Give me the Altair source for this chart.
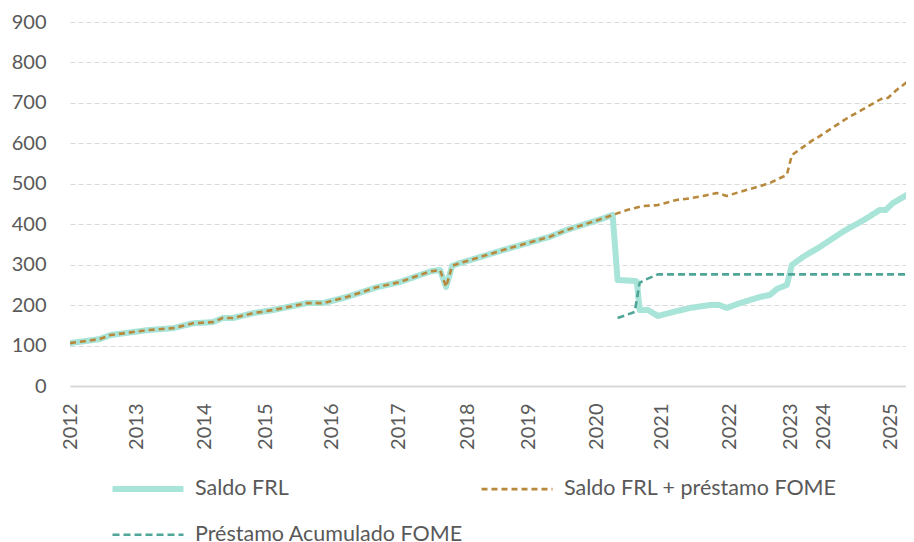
import altair as alt
import pandas as pd

# ---- data (x = period index, roughly months since Jan-2012) ----
series = ["Saldo FRL", "Saldo FRL + préstamo FOME", "Préstamo Acumulado FOME"]
legend_order = ["Saldo FRL", "Préstamo Acumulado FOME", "Saldo FRL + préstamo FOME"]

saldo_x = [0, 5.4, 7.3, 14, 18.7, 22.3, 25.9, 27.7, 29.5, 33.2, 36.9, 43, 45.9, 50.2,
           55.6, 59.8, 65.3, 67.1, 68.2, 69.3, 70.7, 72.5, 78.5, 87, 90.1, 96.6, 98.4,
           99.3, 102.1, 102.8, 103.3, 104.8, 106.6, 110, 112.4, 116, 117.8, 119.1, 121.5,
           125.1, 126.9, 128.2, 130, 130.9, 132.9, 136, 140.1, 144.5, 146.8, 147.9, 149.2,
           151.7, 153]
saldo_y = [106, 116, 126, 138, 143, 155, 158, 168, 168, 180, 188, 205, 205, 220,
           244, 257, 283, 287, 245, 297, 304, 311, 336, 369, 386, 414, 423,
           262, 260, 258, 188, 188, 173, 185, 193, 200, 200, 193, 205,
           220, 225, 240, 250, 299, 319, 344, 381, 415, 435, 435, 452,
           472, 490]

total_x = [0, 5.4, 7.3, 14, 18.7, 22.3, 25.9, 27.7, 29.5, 33.2, 36.9, 43, 45.9, 50.2,
           55.6, 59.8, 65.3, 67.1, 68.2, 69.3, 70.7, 72.5, 78.5, 87, 90.1, 96.6, 98.4,
           101, 103.9, 106.4, 110, 112.4, 114.8, 117.3, 119.1, 121.5, 125.1, 126.9, 130,
           130.9, 134.7, 135.4, 140.9, 147.4, 148.3, 149.9, 153]
total_y = [106, 116, 126, 138, 143, 155, 158, 168, 168, 180, 188, 205, 205, 220,
           244, 257, 283, 287, 245, 297, 304, 311, 336, 369, 386, 414, 423,
           435, 445, 447, 460, 464, 470, 477, 470, 480, 494, 502, 522,
           571, 608, 613, 662, 712, 712, 732, 764]

fome_x = [99.3, 102.4, 103.3, 104.2, 106.6, 153]
fome_y = [168, 183, 255, 262, 276, 276]

year_ticks = [0, 12.1, 24.3, 35.5, 47.5, 59.6, 72, 83.2, 95.4, 107.3, 119.6, 130.7, 136.7, 148.8]
year_labels = ["2012", "2013", "2014", "2015", "2016", "2017", "2018", "2019", "2020",
               "2021", "2022", "2023", "2024", "2025"]
y_ticks = [0, 100, 200, 300, 400, 500, 600, 700, 800, 900]

style_colors = {"Saldo FRL": "#a9e4d9", "Saldo FRL + préstamo FOME": "#b8893d",
                "Préstamo Acumulado FOME": "#4fa597"}
style_dashes = {"Saldo FRL": [1, 0], "Saldo FRL + préstamo FOME": [6, 4],
                "Préstamo Acumulado FOME": [7, 4]}
style_widths = {"Saldo FRL": 6, "Saldo FRL + préstamo FOME": 2.6,
                "Préstamo Acumulado FOME": 2.6}

rows = []
for s, xs, ys in zip(series, [saldo_x, total_x, fome_x], [saldo_y, total_y, fome_y]):
    for a, b in zip(xs, ys):
        rows.append({"serie": s, "t": a, "valor": b})
df = pd.DataFrame(rows)

label_expr = ""
for v, l in zip(year_ticks, year_labels):
    label_expr += f"datum.value == {v} ? '{l}' : "
label_expr += "''"

FONT = "Lato"
GRAY = "#595959"

leg = alt.Legend(orient="none", legendX=66, legendY=455, columns=2, title=None,
                 symbolType="M-4,0H4", symbolSize=315, labelFont=FONT, labelFontSize=21.5,
                 labelColor=GRAY, columnPadding=13, rowPadding=22, labelOffset=35,
                 labelLimit=400, padding=0)

base = alt.Chart(df).encode(
    x=alt.X("t:Q", scale=alt.Scale(domain=[0, 151.6], nice=False, zero=False),
            axis=alt.Axis(values=year_ticks, labelExpr=label_expr, labelAngle=270,
                          labelAlign="right", labelBaseline="middle", labelPadding=17,
                          ticks=False, tickSize=0, grid=False, domain=True,
                          domainColor="#d9d9d9", domainWidth=2, title=None,
                          labelFont=FONT, labelFontSize=20, labelColor=GRAY,
                          labelOverlap=False, labelFlush=False, labelBound=False)),
    y=alt.Y("valor:Q", scale=alt.Scale(domain=[0, 900], nice=False),
            axis=alt.Axis(values=y_ticks, grid=True, gridDash=[5, 3], gridColor="#d9d9d9",
                          gridWidth=1, domain=False, ticks=False, tickSize=0, labelPadding=24,
                          labelFont=FONT, labelFontSize=20, labelColor=GRAY, title=None)),
    color=alt.Color("serie:N", scale=alt.Scale(domain=legend_order,
                    range=[style_colors[s] for s in legend_order]), legend=leg),
    strokeDash=alt.StrokeDash("serie:N", scale=alt.Scale(domain=legend_order,
                    range=[style_dashes[s] for s in legend_order]), legend=leg),
    strokeWidth=alt.StrokeWidth("serie:N", scale=alt.Scale(type="ordinal", domain=legend_order,
                    range=[style_widths[s] for s in legend_order]), legend=leg),
)

layers = [
    base.transform_filter(alt.datum.serie == s).mark_line(
        strokeJoin="round", strokeCap="butt" if i else "round", clip=True)
    for i, s in enumerate(series)
]

chart = alt.layer(*layers).properties(
    width=836, height=364,
    autosize=alt.AutoSizeParams(type="none"),
    padding={"left": 62, "top": 14, "right": 0, "bottom": 156},
).configure_view(stroke=None)

chart.save("out.html", embed_options={"renderer": "svg", "actions": False})
